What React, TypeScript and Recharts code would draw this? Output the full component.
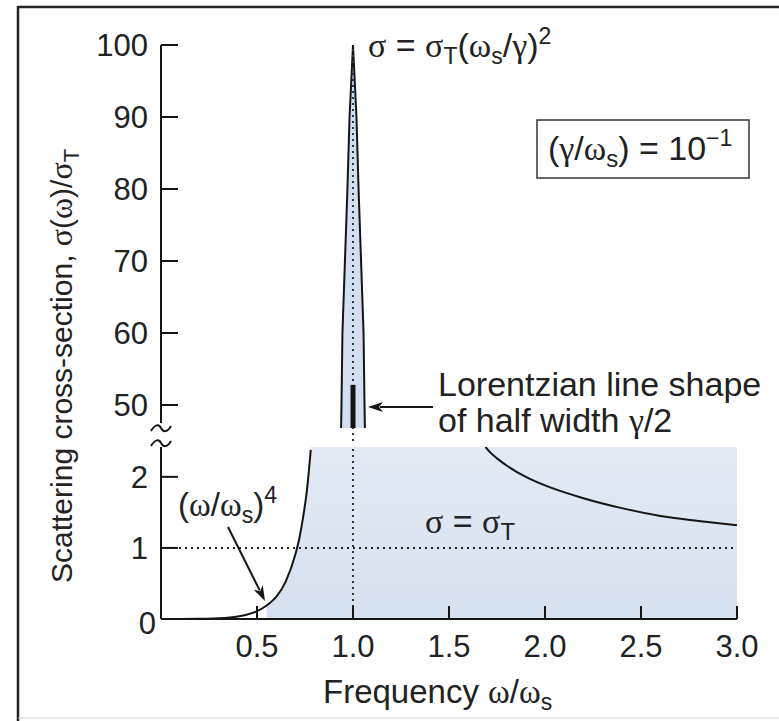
import React from "react";
import { ComposedChart, Area, Line, XAxis, YAxis, ReferenceLine } from "recharts";

// ---- data ----
const W_LOW = [0, 0.1, 0.2, 0.3, 0.4, 0.45, 0.5, 0.55, 0.6, 0.65, 0.7, 0.72, 0.74, 0.76, 0.78];
const SIGMA_LOW = [0, 0.0001, 0.002, 0.01, 0.036, 0.064, 0.11, 0.19, 0.31, 0.53, 0.91, 1.13, 1.43, 1.81, 2.38];
const W_HIGH = [1.69, 1.72, 1.75, 1.8, 1.9, 2.0, 2.2, 2.4, 2.6, 2.8, 3.0];
const SIGMA_HIGH = [2.42, 2.33, 2.26, 2.16, 2.0, 1.88, 1.7, 1.56, 1.45, 1.38, 1.32];
const FILL_START_W = 0.55;
const FILL_TOP = 2.42;
const W_SPIKE = [0.938, 0.94, 0.945, 0.958, 0.971, 0.982, 1.0, 1.018, 1.029, 1.042, 1.055, 1.06, 1.062];
const SIGMA_SPIKE = [46.8, 50, 60, 70, 80, 90, 100, 90, 80, 70, 60, 50, 46.8];
const SPIKE_BASE = 46.8;
const BAR_RANGE = [46.8, 52.8];
const RESONANCE_W = 1.0;
const THOMSON = 1;
const X_TICKS = [0.5, 1.0, 1.5, 2.0, 2.5, 3.0];
const Y_TICKS_UPPER = [50, 60, 70, 80, 90, 100];
const Y_TICKS_LOWER = [0, 1, 2];
const UPPER_DOMAIN = [45, 100];
const UPPER_AXIS_START = 47.5;
const LOWER_DOMAIN = [0, 2.42];

const lowerData = [
  ...W_LOW.map((w, i) => ({
    w,
    low: SIGMA_LOW[i],
    fill: w >= FILL_START_W ? (i === W_LOW.length - 1 ? FILL_TOP : SIGMA_LOW[i]) : null,
  })),
  ...W_HIGH.map((w, i) => ({ w, high: SIGMA_HIGH[i], fill: FILL_TOP })),
];
const spikeData = W_SPIKE.map((w, i) => ({ w, v: SIGMA_SPIKE[i] }));

const SANS = "'Liberation Sans', Arial, sans-serif";
const GREEK = "'Liberation Serif', 'DejaVu Serif', serif";
const INK = "#151515";
const TICK_FS = 31;

const YTick = (props: any) => {
  const { x, y, payload } = props;
  const v = payload.value;
  const zero = v === 0;
  return (
    <g>
      <line x1={x} y1={y} x2={x + 17} y2={y} stroke={INK} strokeWidth={2} />
      <text
        x={zero ? x - 5 : x - 13}
        y={zero ? y + 4 : y}
        dy="0.36em"
        textAnchor="end"
        fontSize={TICK_FS}
        fontFamily={SANS}
        fill="#222"
      >
        {v}
      </text>
    </g>
  );
};

const XTick = (props: any) => {
  const { x, y, payload } = props;
  return (
    <g>
      <line x1={x} y1={y} x2={x} y2={y - 13} stroke={INK} strokeWidth={2} />
      <text x={x} y={y + 38} textAnchor="middle" fontSize={TICK_FS} fontFamily={SANS} fill="#222">
        {Number(payload.value).toFixed(1)}
      </text>
    </g>
  );
};

function Arrow({ x1, y1, x2, y2 }: { x1: number; y1: number; x2: number; y2: number }) {
  const dx = x2 - x1;
  const dy = y2 - y1;
  const len = Math.sqrt(dx * dx + dy * dy);
  const ux = dx / len;
  const uy = dy / len;
  const hl = 15;
  const hw = 5;
  const bx = x2 - ux * hl;
  const by = y2 - uy * hl;
  const px = -uy * hw;
  const py = ux * hw;
  return (
    <g>
      <line x1={x1} y1={y1} x2={bx + ux * 3} y2={by + uy * 3} stroke={INK} strokeWidth={2} />
      <polygon
        points={`${x2},${y2} ${bx + px},${by + py} ${bx + ux * 4},${by + uy * 4} ${bx - px},${by - py}`}
        fill={INK}
      />
    </g>
  );
}

const W = 779;
const H = 721;

export default function App() {
  return (
    <div style={{ position: "absolute", left: 0, top: 0, width: W, height: H, background: "#fff" }}>
      {/* upper panel: resonance peak */}
      <div style={{ position: "absolute", left: 0, top: 0 }}>
        <ComposedChart width={W} height={H} data={spikeData} margin={{ top: 45, right: 42, bottom: 280, left: 101 }}>
          <XAxis type="number" dataKey="w" domain={[0, 3]} hide />
          <YAxis
            type="number"
            domain={UPPER_DOMAIN}
            ticks={Y_TICKS_UPPER}
            interval={0}
            width={60}
            axisLine={false}
            tickLine={false}
            tickSize={0}
            tickMargin={0}
            tick={<YTick />}
            allowDataOverflow
          />
          <ReferenceLine
            segment={[{ x: 0, y: UPPER_AXIS_START }, { x: 0, y: 100 }]}
            stroke={INK}
            strokeWidth={2}
            ifOverflow="visible"
          />
          <Area
            type="linear"
            dataKey="v"
            baseValue={SPIKE_BASE}
            stroke={INK}
            strokeWidth={2}
            fill="#d3def0"
            fillOpacity={1}
            isAnimationActive={false}
            dot={false}
            activeDot={false}
          />
          <ReferenceLine x={RESONANCE_W} stroke="#2a3448" strokeWidth={2} strokeDasharray="2 4" ifOverflow="visible" />
          <ReferenceLine
            segment={[{ x: RESONANCE_W, y: BAR_RANGE[0] }, { x: RESONANCE_W, y: BAR_RANGE[1] }]}
            stroke={INK}
            strokeWidth={5}
            ifOverflow="visible"
          />
        </ComposedChart>
      </div>

      {/* lower panel */}
      <div style={{ position: "absolute", left: 0, top: 0 }}>
        <ComposedChart width={W} height={H} data={lowerData} margin={{ top: 447, right: 42, bottom: 72, left: 101 }}>
          <defs>
            <linearGradient id="shade" x1="0" y1="0" x2="0" y2="1">
              <stop offset="0%" stopColor="#e3eaf4" />
              <stop offset="100%" stopColor="#d6e1ef" />
            </linearGradient>
          </defs>
          <XAxis
            type="number"
            dataKey="w"
            domain={[0, 3]}
            ticks={X_TICKS}
            interval={0}
            height={30}
            axisLine={{ stroke: INK, strokeWidth: 2 }}
            tickLine={false}
            tickSize={0}
            tickMargin={0}
            tick={<XTick />}
          />
          <YAxis
            type="number"
            domain={LOWER_DOMAIN}
            ticks={Y_TICKS_LOWER}
            interval={0}
            width={60}
            axisLine={{ stroke: INK, strokeWidth: 2 }}
            tickLine={false}
            tickSize={0}
            tickMargin={0}
            tick={<YTick />}
            allowDataOverflow
          />
          <Area
            type="monotone"
            dataKey="fill"
            stroke="none"
            fill="url(#shade)"
            fillOpacity={1}
            isAnimationActive={false}
            dot={false}
            activeDot={false}
          />
          <ReferenceLine y={THOMSON} stroke="#222" strokeWidth={2} strokeDasharray="2 4" />
          <ReferenceLine x={RESONANCE_W} stroke="#2a3448" strokeWidth={2} strokeDasharray="2 4" />
          <Line
            type="monotone"
            dataKey="low"
            stroke={INK}
            strokeWidth={2}
            dot={false}
            activeDot={false}
            isAnimationActive={false}
          />
          <Line
            type="monotone"
            dataKey="high"
            stroke={INK}
            strokeWidth={2}
            dot={false}
            activeDot={false}
            isAnimationActive={false}
          />
        </ComposedChart>
      </div>

      {/* annotations */}
      <svg
        width={W}
        height={H}
        style={{ position: "absolute", left: 0, top: 0, pointerEvents: "none" }}
      >
        {/* frame */}
        <line x1={18} y1={7} x2={W} y2={7} stroke="#222" strokeWidth={2.5} />
        <line x1={18} y1={6} x2={18} y2={H} stroke="#222" strokeWidth={2.5} />
        <line x1={18} y1={718} x2={W} y2={718} stroke="#d8d8d8" strokeWidth={1} />

        {/* axis break marks */}
        <path d="M151,431 C155,424 159,424 161,428 S167,433 171,426" fill="none" stroke={INK} strokeWidth={2} />
        <path d="M151,446 C155,439 159,439 161,443 S167,448 171,441" fill="none" stroke={INK} strokeWidth={2} />

        {/* peak formula */}
        <text x={368} y={57} fontSize={34} fontFamily={SANS} fill="#222">
          <tspan fontFamily={GREEK}>σ</tspan>
          <tspan>{" = "}</tspan>
          <tspan fontFamily={GREEK}>σ</tspan>
          <tspan dy={7} fontSize={23}>T</tspan>
          <tspan dy={-7}>(</tspan>
          <tspan fontFamily={GREEK}>ω</tspan>
          <tspan dy={7} fontSize={23}>s</tspan>
          <tspan dy={-7}>/</tspan>
          <tspan fontFamily={GREEK}>γ</tspan>
          <tspan>)</tspan>
          <tspan dy={-13} fontSize={23}>2</tspan>
        </text>

        {/* parameter box */}
        <rect x={537} y={120} width={212} height={58} fill="none" stroke="#333" strokeWidth={1.5} />
        <text x={548} y={160} fontSize={34} fontFamily={SANS} fill="#222">
          <tspan>(</tspan>
          <tspan fontFamily={GREEK}>γ</tspan>
          <tspan>/</tspan>
          <tspan fontFamily={GREEK}>ω</tspan>
          <tspan dy={7} fontSize={24}>s</tspan>
          <tspan dy={-7}>{") = 10"}</tspan>
          <tspan dy={-14} fontSize={23}>−1</tspan>
        </text>

        {/* Lorentzian annotation */}
        <text x={438} y={396} fontSize={34} fontFamily={SANS} fill="#222">
          Lorentzian line shape
        </text>
        <text x={438} y={432} fontSize={34} fontFamily={SANS} fill="#222">
          <tspan>{"of half width "}</tspan>
          <tspan fontFamily={GREEK}>γ</tspan>
          <tspan>/2</tspan>
        </text>
        <Arrow x1={433} y1={407} x2={368} y2={407} />

        {/* (ω/ωs)^4 annotation */}
        <text x={178} y={516} fontSize={33} fontFamily={SANS} fill="#222">
          <tspan>(</tspan>
          <tspan fontFamily={GREEK}>ω</tspan>
          <tspan>/</tspan>
          <tspan fontFamily={GREEK}>ω</tspan>
          <tspan dy={7} fontSize={23}>s</tspan>
          <tspan dy={-7}>)</tspan>
          <tspan dy={-13} fontSize={23}>4</tspan>
        </text>
        <Arrow x1={228} y1={527} x2={265} y2={601} />

        {/* sigma = sigma_T */}
        <text x={425} y={533} fontSize={34} fontFamily={SANS} fill="#222">
          <tspan fontFamily={GREEK}>σ</tspan>
          <tspan>{" = "}</tspan>
          <tspan fontFamily={GREEK}>σ</tspan>
          <tspan dy={7} fontSize={24}>T</tspan>
        </text>

        {/* axis titles */}
        <text x={323} y={703} fontSize={33} fontFamily={SANS} fill="#222">
          <tspan>{"Frequency "}</tspan>
          <tspan fontFamily={GREEK}>ω</tspan>
          <tspan>/</tspan>
          <tspan fontFamily={GREEK}>ω</tspan>
          <tspan dy={7} fontSize={23}>s</tspan>
        </text>
        <text
          x={0}
          y={0}
          transform="translate(72,583) rotate(-90)"
          textAnchor="start"
          fontSize={30}
          fontFamily={SANS}
          fill="#222"
        >
          <tspan>{"Scattering cross-section, "}</tspan>
          <tspan fontFamily={GREEK} fontSize={32}>σ</tspan>
          <tspan>(</tspan>
          <tspan fontFamily={GREEK} fontSize={32}>ω</tspan>
          <tspan>)/</tspan>
          <tspan fontFamily={GREEK} fontSize={32}>σ</tspan>
          <tspan dy={7} fontSize={22}>T</tspan>
        </text>
      </svg>
    </div>
  );
}
